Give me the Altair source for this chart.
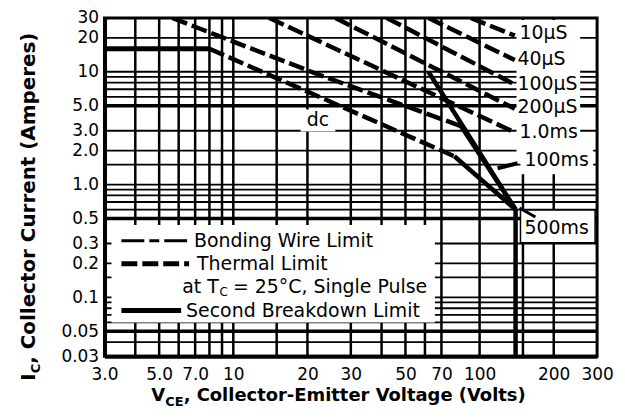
import altair as alt
import pandas as pd

# ---------------- data ----------------
x_ticks = [3, 5, 7, 10, 20, 30, 50, 70, 100, 200, 300]
y_ticks = [0.03, 0.05, 0.1, 0.2, 0.3, 0.5, 1, 2, 3, 5, 10, 20, 30]

x_grid = [4, 5, 6, 7, 8, 9, 10, 15, 20, 30, 40, 50, 60, 70, 100, 150, 200]
y_grid = [0.04, 0.06, 0.07, 0.08, 0.09, 0.1, 0.15, 0.2, 0.3, 0.6, 0.7, 0.8, 0.9,
          1, 1.5, 2, 3, 6, 7, 8, 9, 10, 20]
y_grid_heavy = [0.05, 0.5, 5]

# thermal limited (dashed) segments
thermal_names = ["10µS", "40µS", "100µS", "200µS", "1.0ms", "100ms", "dc"]
thermal_v = [[92, 139], [62, 139], [42, 139], [26, 139], [14, 139],
             [5.65, 22.3, 84], [8, 22.3, 79]]
thermal_i = [[30, 20.9], [30, 12.7], [30, 7.7], [30, 4.7], [30, 2.9],
             [30, 9.4, 3.3], [16, 6.0, 1.78]]

# second breakdown (solid) segments
sb_names = ["100ms", "dc", "500ms", "VCEO"]
sb_v = [[84, 140], [79, 140], [62, 140], [140, 140]]
sb_i = [[3.3, 0.6], [1.78, 0.6], [10, 0.6], [0.6, 0.03]]

# bonding wire (max current) segment
bond_v = [3, 8]
bond_i = [16, 16]


def long_df(names, vs, is_):
    rows = []
    for n, v, i in zip(names, vs, is_):
        for k, (a, b) in enumerate(zip(v, i)):
            rows.append({"name": n, "V": a, "I": b, "ord": k})
    return pd.DataFrame(rows)


thermal_df = long_df(thermal_names, thermal_v, thermal_i)
sb_df = long_df(sb_names, sb_v, sb_i)
bond_df = long_df(["bond"], [bond_v], [bond_i])

FONT = "DejaVu Sans"
xs = alt.Scale(type="log", domain=[3, 300], nice=False, zero=False)
ys = alt.Scale(type="log", domain=[0.03, 30], nice=False, zero=False)

x_axis = alt.Axis(values=x_ticks, title=None, grid=False, ticks=False,
                  domainWidth=4, domainColor="black",
                  labelExpr="datum.value >= 10 ? format(datum.value, 'd') : format(datum.value, '.1f')",
                  labelFont=FONT, labelFontSize=17, labelColor="black",
                  labelPadding=10, labelFlush=False, labelOverlap=False)
y_axis = alt.Axis(values=y_ticks, title=None, grid=False, ticks=False,
                  domainWidth=4, domainColor="black",
                  labelExpr="datum.value >= 10 ? format(datum.value, 'd') : datum.value >= 1 ? format(datum.value, '.1f') : format(datum.value, '~g')",
                  labelFont=FONT, labelFontSize=17, labelColor="black",
                  labelPadding=6, labelFlush=False, labelOverlap=False)

# ---------------- grid ----------------
vgrid = alt.Chart(pd.DataFrame({"gv": x_grid})).mark_rule(color="black", strokeWidth=2.5).encode(
    x=alt.X("gv:Q", scale=xs, axis=x_axis))
hgrid = alt.Chart(pd.DataFrame({"gh": y_grid})).mark_rule(color="black", strokeWidth=1.8).encode(
    y=alt.Y("gh:Q", scale=ys, axis=y_axis))
hgrid2 = alt.Chart(pd.DataFrame({"gh": y_grid_heavy})).mark_rule(color="black", strokeWidth=3.5).encode(
    y=alt.Y("gh:Q", scale=ys, axis=y_axis))

# ---------------- curves ----------------
thermal = alt.Chart(thermal_df).mark_line(color="black", strokeWidth=4.5, strokeDash=[16, 5], clip=True).encode(
    x=alt.X("V:Q", scale=xs, axis=x_axis),
    y=alt.Y("I:Q", scale=ys, axis=y_axis),
    detail="name:N", order="ord:Q")
sb = alt.Chart(sb_df).mark_line(color="black", strokeWidth=4.5, clip=True).encode(
    x=alt.X("V:Q", scale=xs, axis=x_axis),
    y=alt.Y("I:Q", scale=ys, axis=y_axis),
    detail="name:N", order="ord:Q")
bond = alt.Chart(bond_df).mark_line(color="black", strokeWidth=5, clip=True).encode(
    x=alt.X("V:Q", scale=xs, axis=x_axis),
    y=alt.Y("I:Q", scale=ys, axis=y_axis),
    order="ord:Q")

# plot area origin on the page (left, top); annotations are given in page pixels
OX, OY = 105, 17


def one():
    return pd.DataFrame({"a": [0]})


def rect(x1, x2, y1, y2, stroke=None):
    kw = dict(color="white", opacity=1)
    if stroke:
        kw.update(stroke="black", strokeWidth=1.5)
    return alt.Chart(one()).mark_rect(**kw).encode(
        x=alt.value(x1 - OX), x2=alt.value(x2 - OX),
        y=alt.value(y1 - OY), y2=alt.value(y2 - OY))


def seg(x1, x2, y1, y2, width, dash=None):
    kw = dict(color="black", strokeWidth=width)
    if dash:
        kw["strokeDash"] = dash
    return alt.Chart(one()).mark_rule(**kw).encode(
        x=alt.value(x1 - OX), x2=alt.value(x2 - OX),
        y=alt.value(y1 - OY), y2=alt.value(y2 - OY))


def txt(s, x, y, size, bold=False, align="left", baseline="middle", angle=0):
    return alt.Chart(pd.DataFrame({"t": [s]})).mark_text(
        align=align, baseline=baseline, fontSize=size, font=FONT,
        fontWeight="bold" if bold else "normal", angle=angle, color="black"
    ).encode(x=alt.value(x - OX), y=alt.value(y - OY), text="t:N")


annotations = [
    # legend box and label backgrounds
    rect(112, 437, 225, 323),
    rect(519, 583, 19, 158),
    rect(523, 596, 146, 174),
    rect(523, 598, 210, 243, stroke=True),
    rect(302, 337, 109, 131),
    # legend symbols
    seg(122, 190, 241, 241, 3, [23, 5, 10, 5]),
    seg(122, 190, 264, 264, 5, [16, 5]),
    seg(122, 182, 311, 311, 5),
    # pointers
    seg(500, 520, 168, 163, 4),
    seg(522, 538, 208, 217, 3),
    # legend texts
    txt("Bonding Wire Limit", 195, 241, 19),
    txt("Thermal Limit", 198, 264, 19),
    txt("at T", 183, 287, 19),
    txt("C", 220.5, 292, 12),
    txt("= 25°C, Single Pulse", 234, 287, 19),
    txt("Second Breakdown Limit", 187, 312, 19),
    # curve labels
    txt("10µS", 522, 32, 19),
    txt("40µS", 520, 58, 19),
    txt("100µS", 520, 83, 19),
    txt("200µS", 520, 107, 19),
    txt("1.0ms", 522, 132, 19),
    txt("100ms", 527, 160, 19),
    txt("500ms", 527, 228, 19),
    txt("dc", 319.5, 120, 19, align="center"),
    # x title
    txt("V", 152, 402, 18, bold=True, baseline="alphabetic"),
    txt("CE", 166, 407, 13, bold=True, baseline="alphabetic"),
    txt(", Collector-Emitter Voltage (Volts)", 184.5, 402, 18, bold=True, baseline="alphabetic"),
    # y title (rotated)
    txt("I", 35, 381.5, 20, bold=True, baseline="alphabetic", angle=270),
    txt("C", 40, 374, 13, bold=True, baseline="alphabetic", angle=270),
    txt(", Collector Current (Amperes)", 35, 364.5, 20, bold=True, baseline="alphabetic", angle=270),
]

chart = alt.layer(vgrid, hgrid, hgrid2, thermal, sb, bond, *annotations).properties(
    width=495, height=340,
    autosize=alt.AutoSizeParams(type="none"),
    padding={"left": OX - 8, "top": OY - 8, "right": 20, "bottom": 58},
    background="white",
).configure_view(stroke="black", strokeWidth=3)

chart.save("out.html", embed_options={"renderer": "svg", "actions": False})
